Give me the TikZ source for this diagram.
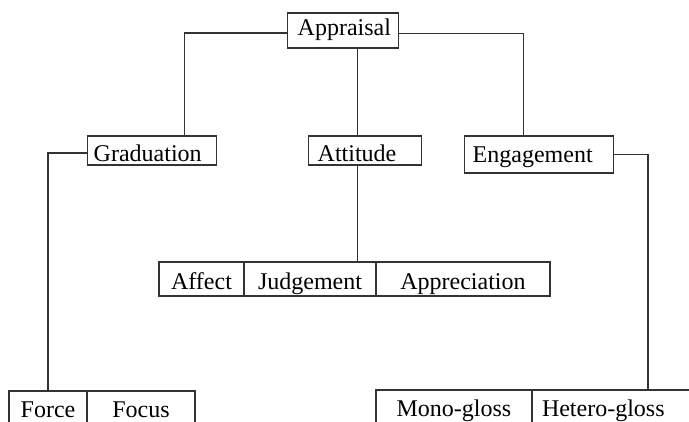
\documentclass[tikz,border=0pt]{standalone}
\usepackage{fontspec}
\setmainfont{Liberation Serif}
\usepackage{tikz}
\usetikzlibrary{positioning}
\tikzset{
  box/.style={draw=black!80, line width=1.4pt, rectangle, inner ysep=0pt,
    align=left, anchor=west, font=\fontsize{24}{28}\selectfont},
  cell/.style={draw=black!80, line width=1.4pt, rectangle, inner sep=0pt,
    outer sep=0pt, text height=27pt, text depth=7pt,
    font=\fontsize{24}{28}\selectfont},
  link/.style={draw=black!80, line width=1.4pt}
}
\begin{document}
\begin{tikzpicture}[x=1pt,y=-1pt]
  \useasboundingbox (0,0) rectangle (689,421);
  \clip (0,0) rectangle (689,421);
  \fill[white] (0,0) rectangle (689,421);

  \node[box, inner xsep=10pt, text width=91pt, text height=22pt, text depth=13pt] (appr) at (287,30.5) {Appraisal};
  \node[box, inner xsep=6pt, text width=117pt, text height=25pt, text depth=4pt] (grad) at (87,150.5) {Graduation};
  \node[box, inner xsep=9pt, text width=95pt, text height=25pt, text depth=4pt] (att) at (308,150.5) {Attitude};
  \node[box, inner xsep=8pt, text width=133pt, text height=26pt, text depth=11pt] (eng) at (464,154.5) {Engagement};

  \node[cell, minimum width=85pt, anchor=north west] (aff) at (159,262) {Affect};
  \node[cell, minimum width=132pt, right=0pt of aff] (judg) {Judgement};
  \node[cell, minimum width=174pt, right=0pt of judg] (apprec) {Appreciation};

  \node[cell, minimum width=78pt, text height=26pt, text depth=10pt, anchor=north west] (force) at (9,391) {Force};
  \node[cell, minimum width=108pt, text height=26pt, text depth=10pt, right=0pt of force] (focus) {Focus};

  \node[cell, minimum width=156pt, text height=26pt, text depth=12pt, anchor=north west] (mono) at (376,390) {Mono-gloss};
  \node[cell, text width=150pt, align=left, inner xsep=10pt, text height=26pt, text depth=12pt, right=0pt of mono] (het) {Hetero-gloss};

  \draw[link] ([yshift=-2.5pt]appr.west) -| ([xshift=32.5pt]grad.north);
  \draw[link] ([yshift=-3pt]appr.east) -| ([xshift=-16pt]eng.north);
  \draw[link] ([xshift=14pt]appr.south) -- ([xshift=14pt]appr.south |- att.north);
  \draw[link] ([xshift=-7.5pt]att.south) -- ([xshift=-7.5pt]att.south |- judg.north);
  \draw[link] ([yshift=-2.5pt]grad.west) -| (force.north);
  \draw[link] (eng.east) -| ([xshift=31pt]het.north);
\end{tikzpicture}
\end{document}
